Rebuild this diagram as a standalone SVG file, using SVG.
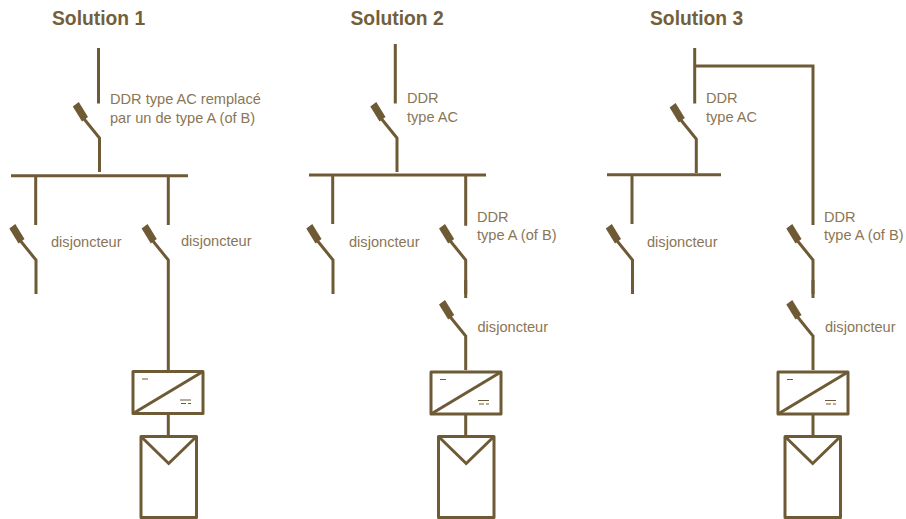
<svg xmlns="http://www.w3.org/2000/svg" width="906" height="519" viewBox="0 0 906 519">
<style>
.l{fill:none;stroke:#6f5a36;stroke-width:3}
.j{stroke-linejoin:round}
.b{fill:#6f5a36;stroke:none}
.m{fill:none;stroke:#6f5a36;stroke-width:1}
text{font-family:"Liberation Sans",Arial,sans-serif;fill:#8a7656;font-size:14.6px}
.t{font-size:19.3px;font-weight:bold;fill:#735f3c}
</style>
<defs>
<g id="sw"><path class="b" d="M-26.700,-31.500 L-20.700,-36 L-11.500,-21 L-17.500,-16.500 Z"/><path class="l" d="M-17,-21 L0,0 V34"/></g>
<g id="conv"><rect class="l j" x="0" y="0" width="70" height="42"/><path class="l" d="M0,42 L70,0"/><path class="m" d="M9,7.500 H15 M47,28.500 H58 M48,32 H53 M55,32 H58"/></g>
<g id="pv"><rect class="l j" x="0" y="0" width="55.500" height="81"/><path class="l" d="M0,0 L27.700,27 L55.500,0"/></g>
</defs>
<g id="titles">
<text class="t" x="52" y="25">Solution 1</text>
<text class="t" x="350.500" y="25">Solution 2</text>
<text class="t" x="650" y="25">Solution 3</text>
</g>
<g id="connectors">
<path class="l" d="M98.500,48 V103.500 M11,175.700 H188 M35.700,175.700 V225 M168.300,175.700 V225 M168.300,294 V371 M168.300,413 V436"/>
<path class="l" d="M395.300,44 V103.500 M309,175 H486 M332.700,175 V224 M465.700,175 V225.700 M465.700,280 V298 M465.700,414 V436"/>
<path class="l" d="M694.700,48 V103.500 M694.700,66 H813 V225 M607,174.700 H721 M632,174.700 V224 M813,280 V298 M813,414 V436"/>
</g>
<g id="s1-ddr"><use href="#sw" x="99.500" y="138"/><text x="110" y="104">DDR type AC remplacé</text><text x="110" y="123">par un de type A (of B)</text></g>
<g id="s1-d1"><use href="#sw" x="36" y="260"/><text x="51" y="247">disjoncteur</text></g>
<g id="s1-d2"><use href="#sw" x="168.300" y="260"/><text x="181" y="246">disjoncteur</text></g>
<g id="s1-conv"><use href="#conv" x="133" y="371.500"/></g>
<g id="s1-pv"><use href="#pv" x="141" y="436.500"/></g>
<g id="s2-ddr"><use href="#sw" x="397" y="138"/><text x="407" y="103">DDR</text><text x="407" y="121.500">type AC</text></g>
<g id="s2-d1"><use href="#sw" x="333" y="260"/><text x="349" y="246.500">disjoncteur</text></g>
<g id="s2-ddra"><use href="#sw" x="465.700" y="260"/><text x="477" y="222">DDR</text><text x="477" y="240">type A (of B)</text></g>
<g id="s2-d2"><use href="#sw" x="465.700" y="336"/><text x="477.500" y="332">disjoncteur</text></g>
<g id="s2-conv"><use href="#conv" x="431" y="372"/></g>
<g id="s2-pv"><use href="#pv" x="438.500" y="436.500"/></g>
<g id="s3-ddr"><use href="#sw" x="696.300" y="139"/><text x="706" y="103">DDR</text><text x="706" y="122">type AC</text></g>
<g id="s3-d1"><use href="#sw" x="632.500" y="260"/><text x="647" y="247">disjoncteur</text></g>
<g id="s3-ddra"><use href="#sw" x="813" y="260"/><text x="824" y="222">DDR</text><text x="824" y="240">type A (of B)</text></g>
<g id="s3-d2"><use href="#sw" x="813" y="336"/><text x="825" y="332">disjoncteur</text></g>
<g id="s3-conv"><use href="#conv" x="778" y="372"/></g>
<g id="s3-pv"><use href="#pv" x="785" y="436.500"/></g>
</svg>
